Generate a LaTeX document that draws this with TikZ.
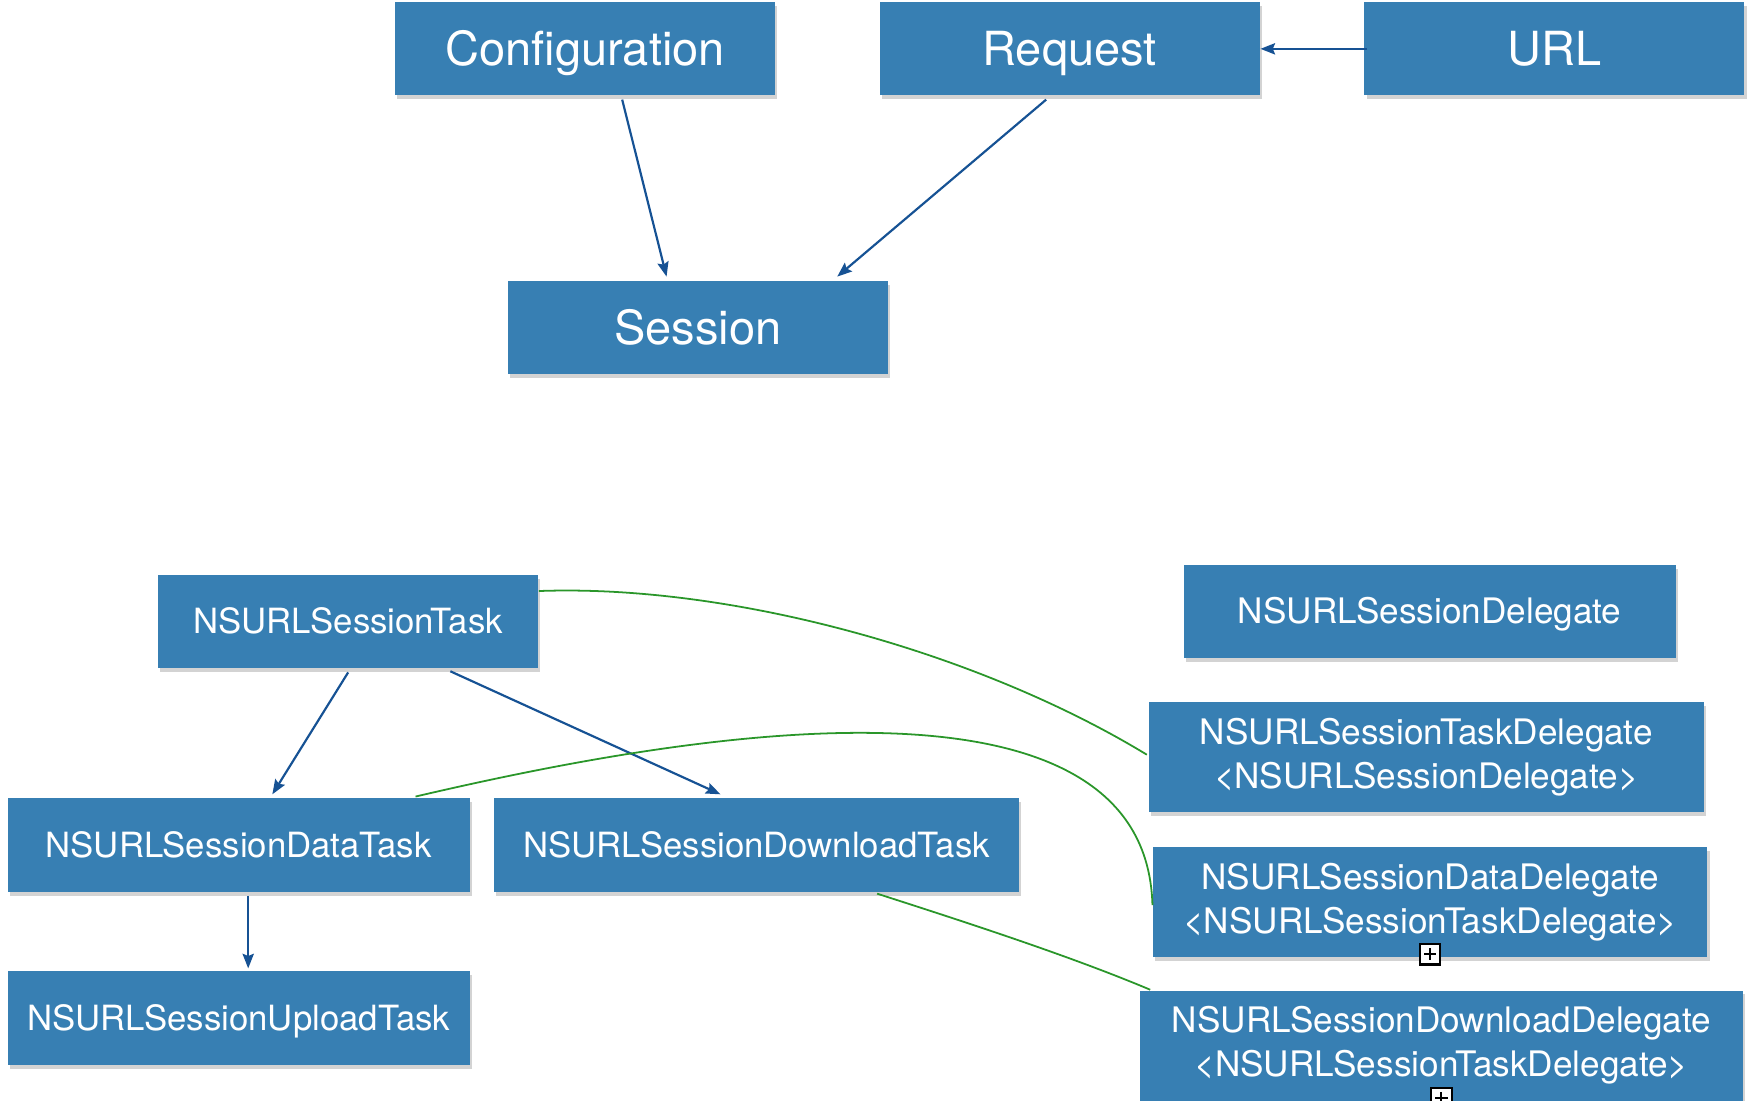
\documentclass[tikz,border=0pt]{standalone}
\usepackage{fontspec}
\setmainfont{TeX Gyre Heros}
\usepackage{tikz}
\usetikzlibrary{calc}
\usetikzlibrary{shadows}
\usetikzlibrary{arrows.meta}

\definecolor{boxblue}{RGB}{55,127,179}
\definecolor{linkblue}{RGB}{22,82,148}
\definecolor{linkgreen}{RGB}{42,150,42}

\begin{document}
\begin{tikzpicture}[x=0.01cm,y=-0.01cm,
    blk/.style={rectangle,fill=boxblue,text=white,inner sep=0pt,
      drop shadow={opacity=0.35,shadow xshift=0.02cm,shadow yshift=-0.035cm}},
    topbox/.style={blk,font=\fontsize{11.9}{14}\selectfont,text height=0.30cm,text depth=0pt,
      minimum width=3.38cm,minimum height=0.83cm},
    taskbox/.style={blk,font=\fontsize{8.8}{11}\selectfont,text height=0.22cm,text depth=0pt,
      minimum width=4.11cm,minimum height=0.83cm},
    delbox/.style={blk,font=\fontsize{8.9}{11.1}\selectfont,align=center,minimum height=0.98cm},
    link/.style={arrows=-{Stealth[length=0.13cm,width=0.1cm,inset=0.02cm]},line width=0.55pt,linkblue},
    conform/.style={line width=0.45pt,linkgreen},
    plusbox/.style={rectangle,draw=black,fill=white,line width=0.55pt,minimum size=0.18cm,inner sep=0pt,
      path picture={\draw[line width=0.5pt]
        ([yshift=-0.035cm]path picture bounding box.north) -- ([yshift=0.035cm]path picture bounding box.south)
        ([xshift=0.035cm]path picture bounding box.west) -- ([xshift=-0.035cm]path picture bounding box.east);}}]
    \useasboundingbox (0,0) rectangle (1560,980);

    \node [topbox] (cfg) at (521,43.5) {Configuration};
    \node [topbox] (req) at (952.5,43.5) {Request};
    \node [topbox] (url) at (1384,43.5) {URL};
    \node [topbox] (ses) at (621.5,291.5) {Session};

    \node [taskbox,minimum width=3.38cm] (task) at (310,553.5) {NSURLSessionTask};
    \node [taskbox] (data) at (212.5,752.5) {NSURLSessionDataTask};
    \node [taskbox,minimum width=4.67cm] (dl) at (673.5,752.5) {NSURLSessionDownloadTask};
    \node [taskbox] (up) at (212.5,906.5) {NSURLSessionUploadTask};

    \node [delbox,text height=0.22cm,text depth=0pt,minimum width=4.38cm,minimum height=0.83cm] (sdel) at (1273,544.5) {NSURLSessionDelegate};
    \node [delbox,minimum width=4.94cm] (tdel) at (1270,674) {NSURLSessionTaskDelegate\\<NSURLSessionDelegate>};
    \node [delbox,minimum width=4.93cm] (ddel) at (1273.5,803) {NSURLSessionDataDelegate\\<NSURLSessionTaskDelegate>};
    \node [delbox,minimum width=5.37cm] (dldel) at (1283.5,931) {NSURLSessionDownloadDelegate\\<NSURLSessionTaskDelegate>};

    \node [plusbox] (ddelplus) at ($(ddel.south)+(0,-3)$) {};
    \node [plusbox] (dldelplus) at ($(dldel.south)+(0,-3)$) {};

    \draw [link] ($(cfg.south)+(33,3)$) -- ($(ses.north)+(-28,-3)$);
    \draw [link] ($(req.south)+(-21,3)$) -- ($(ses.north)+(124,-3)$);
    \draw [link] ($(url.west)+(3,0)$) -- (req.east);

    \draw [link] ($(task.south)+(0,3)$) -- ($(data.north)+(30,-3)$);
    \draw [link] ($(task.south)+(91,2)$) -- ($(dl.north)+(-32,-3)$);
    \draw [link] ($(data.south)+(8.5,3)$) -- ($(up.north)+(8.5,-2)$);

    \draw [conform] ($(task.north east)+(0,15)$) .. controls (650,520) and (870,580) .. ($(tdel.west)+(-1,-2)$);
    \draw [conform] ($(data.north)+(157.5,-1)$) .. controls (560,665) and (1020,570) .. ($(ddel.west)+(0,3)$);
    \draw [conform] ($(dl.south)+(107.5,1)$) .. controls (850,818) and (950,850) .. ($(dldel.north west)+(10,0)$);

  \end{tikzpicture}
\end{document}
